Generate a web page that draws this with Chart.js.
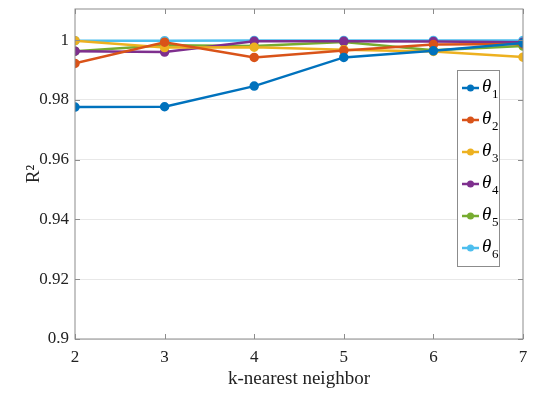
<!DOCTYPE html>
<html>
<head>
<meta charset="utf-8">
<script src="https://cdn.jsdelivr.net/npm/chart.js@4"></script>
<style>
  html, body { margin: 0; padding: 0; background: #fff; }
  #wrap { width: 550px; height: 396px; }
</style>
</head>
<body>
<div id="wrap"><canvas id="myLineChart" width="550" height="396"></canvas></div>
<script>
// k values on the x axis
var kValues = [2, 3, 4, 5, 6, 7];
var yTicks = [0.9, 0.92, 0.94, 0.96, 0.98, 1];

// R^2 for each parameter
var theta1 = [0.9776, 0.9777, 0.9846, 0.9942, 0.9964, 0.9990];
var theta2 = [0.9922, 0.9993, 0.9942, 0.9965, 0.9985, 0.9987];
var theta3 = [0.9998, 0.9975, 0.9976, 0.9968, 0.9962, 0.9943];
var theta4 = [0.9963, 0.9960, 0.9996, 0.9996, 0.9995, 0.9993];
var theta5 = [0.9963, 0.9983, 0.9980, 0.9994, 0.9966, 0.9980];
var theta6 = [0.9998, 0.9998, 0.9999, 0.9999, 0.9999, 0.9999];

var seriesNames = ["1", "2", "3", "4", "5", "6"];
var seriesValues = [theta1, theta2, theta3, theta4, theta5, theta6];
var seriesColors = ["#0072BD", "#D95319", "#EDB120", "#7E2F8E", "#77AC30", "#4DBEEE"];

var FONT = "'Liberation Serif', 'Times New Roman', serif";

var datasets = seriesValues.map(function (vals, i) {
    return {
        label: seriesNames[i],
        data: vals.map(function (v, j) { return { x: kValues[j], y: v }; }),
        borderColor: seriesColors[i],
        backgroundColor: seriesColors[i],
        borderWidth: 2.5,
        pointRadius: 3.5,
        pointStyle: "circle",
        tension: 0,
    };
});

// box, inward ticks and the theta legend (MATLAB look)
var matlabPlugin = {
    id: "matlab",
    afterDatasetsDraw: function (chart) {
        var ctx = chart.ctx, a = chart.chartArea;
        var xs = chart.scales.x, ys = chart.scales.y;
        ctx.save();
        ctx.strokeStyle = "#8c8c8c";
        ctx.lineWidth = 1;
        ctx.strokeRect(a.left, a.top, a.right - a.left, a.bottom - a.top);
        ctx.beginPath();
        kValues.forEach(function (k) {
            var px = Math.round(xs.getPixelForValue(k)) + 0.5;
            ctx.moveTo(px, a.bottom); ctx.lineTo(px, a.bottom - 5);
            ctx.moveTo(px, a.top); ctx.lineTo(px, a.top + 5);
        });
        yTicks.forEach(function (t) {
            var py = Math.round(ys.getPixelForValue(t)) + 0.5;
            ctx.moveTo(a.left, py); ctx.lineTo(a.left + 5, py);
            ctx.moveTo(a.right, py); ctx.lineTo(a.right - 5, py);
        });
        ctx.stroke();

        // legend box
        var bx = 457, by = 70, bw = 42, bh = 196;
        ctx.fillStyle = "#fff";
        ctx.fillRect(bx, by, bw, bh);
        ctx.strokeStyle = "#8c8c8c";
        ctx.strokeRect(bx + 0.5, by + 0.5, bw, bh);
        chart.data.datasets.forEach(function (ds, i) {
            var cy = by + 18 + i * 32;
            ctx.strokeStyle = ds.borderColor;
            ctx.lineWidth = 2.5;
            ctx.beginPath();
            ctx.moveTo(bx + 5, cy); ctx.lineTo(bx + 22, cy);
            ctx.stroke();
            ctx.fillStyle = ds.borderColor;
            ctx.beginPath();
            ctx.arc(bx + 13.5, cy, 3.5, 0, Math.PI * 2);
            ctx.fill();
            ctx.fillStyle = "#000";
            ctx.textBaseline = "middle";
            ctx.textAlign = "left";
            ctx.font = "italic 19px " + FONT;
            ctx.fillText("\u03b8", bx + 25, cy - 1);
            ctx.font = "13px " + FONT;
            ctx.fillText(ds.label, bx + 35, cy + 7);
        });
        ctx.restore();
    },
};

var ctx = document.getElementById("myLineChart").getContext("2d");
new Chart(ctx, {
    type: "line",
    data: { datasets: datasets },
    options: {
        responsive: false,
        animation: false,
        layout: { padding: { top: 9, right: 27, left: 0, bottom: 2 } },
        plugins: { legend: { display: false }, tooltip: { enabled: false } },
        scales: {
            x: {
                type: "linear",
                min: 2,
                max: 7,
                afterBuildTicks: function (s) { s.ticks = kValues.map(function (v) { return { value: v }; }); },
                afterFit: function (s) { s.height = 55; s.paddingLeft = 0; s.paddingRight = 0; },
                grid: { display: false, drawTicks: false },
                border: { display: false },
                ticks: { color: "#222", padding: 8, font: { family: FONT, size: 17 } },
                title: { display: true, text: "k-nearest neighbor", color: "#222", padding: { top: 0, bottom: 4 }, font: { family: FONT, size: 19 } },
            },
            y: {
                type: "linear",
                min: 0.9,
                max: 1.0104,
                afterBuildTicks: function (s) { s.ticks = yTicks.map(function (v) { return { value: v }; }); },
                afterFit: function (s) { s.width = 75; s.paddingTop = 0; s.paddingBottom = 0; },
                grid: { color: "#e8e8e8", lineWidth: 1, drawTicks: false },
                border: { display: false },
                ticks: {
                    color: "#222", padding: 6, font: { family: FONT, size: 17 },
                    callback: function (v) { return String(Math.round(v * 100) / 100); },
                },
                title: { display: true, text: "R\u00b2", color: "#222", padding: { top: 23, bottom: 0 }, font: { family: FONT, size: 19 } },
            },
        },
    },
    plugins: [matlabPlugin],
});
</script>
</body>
</html>
